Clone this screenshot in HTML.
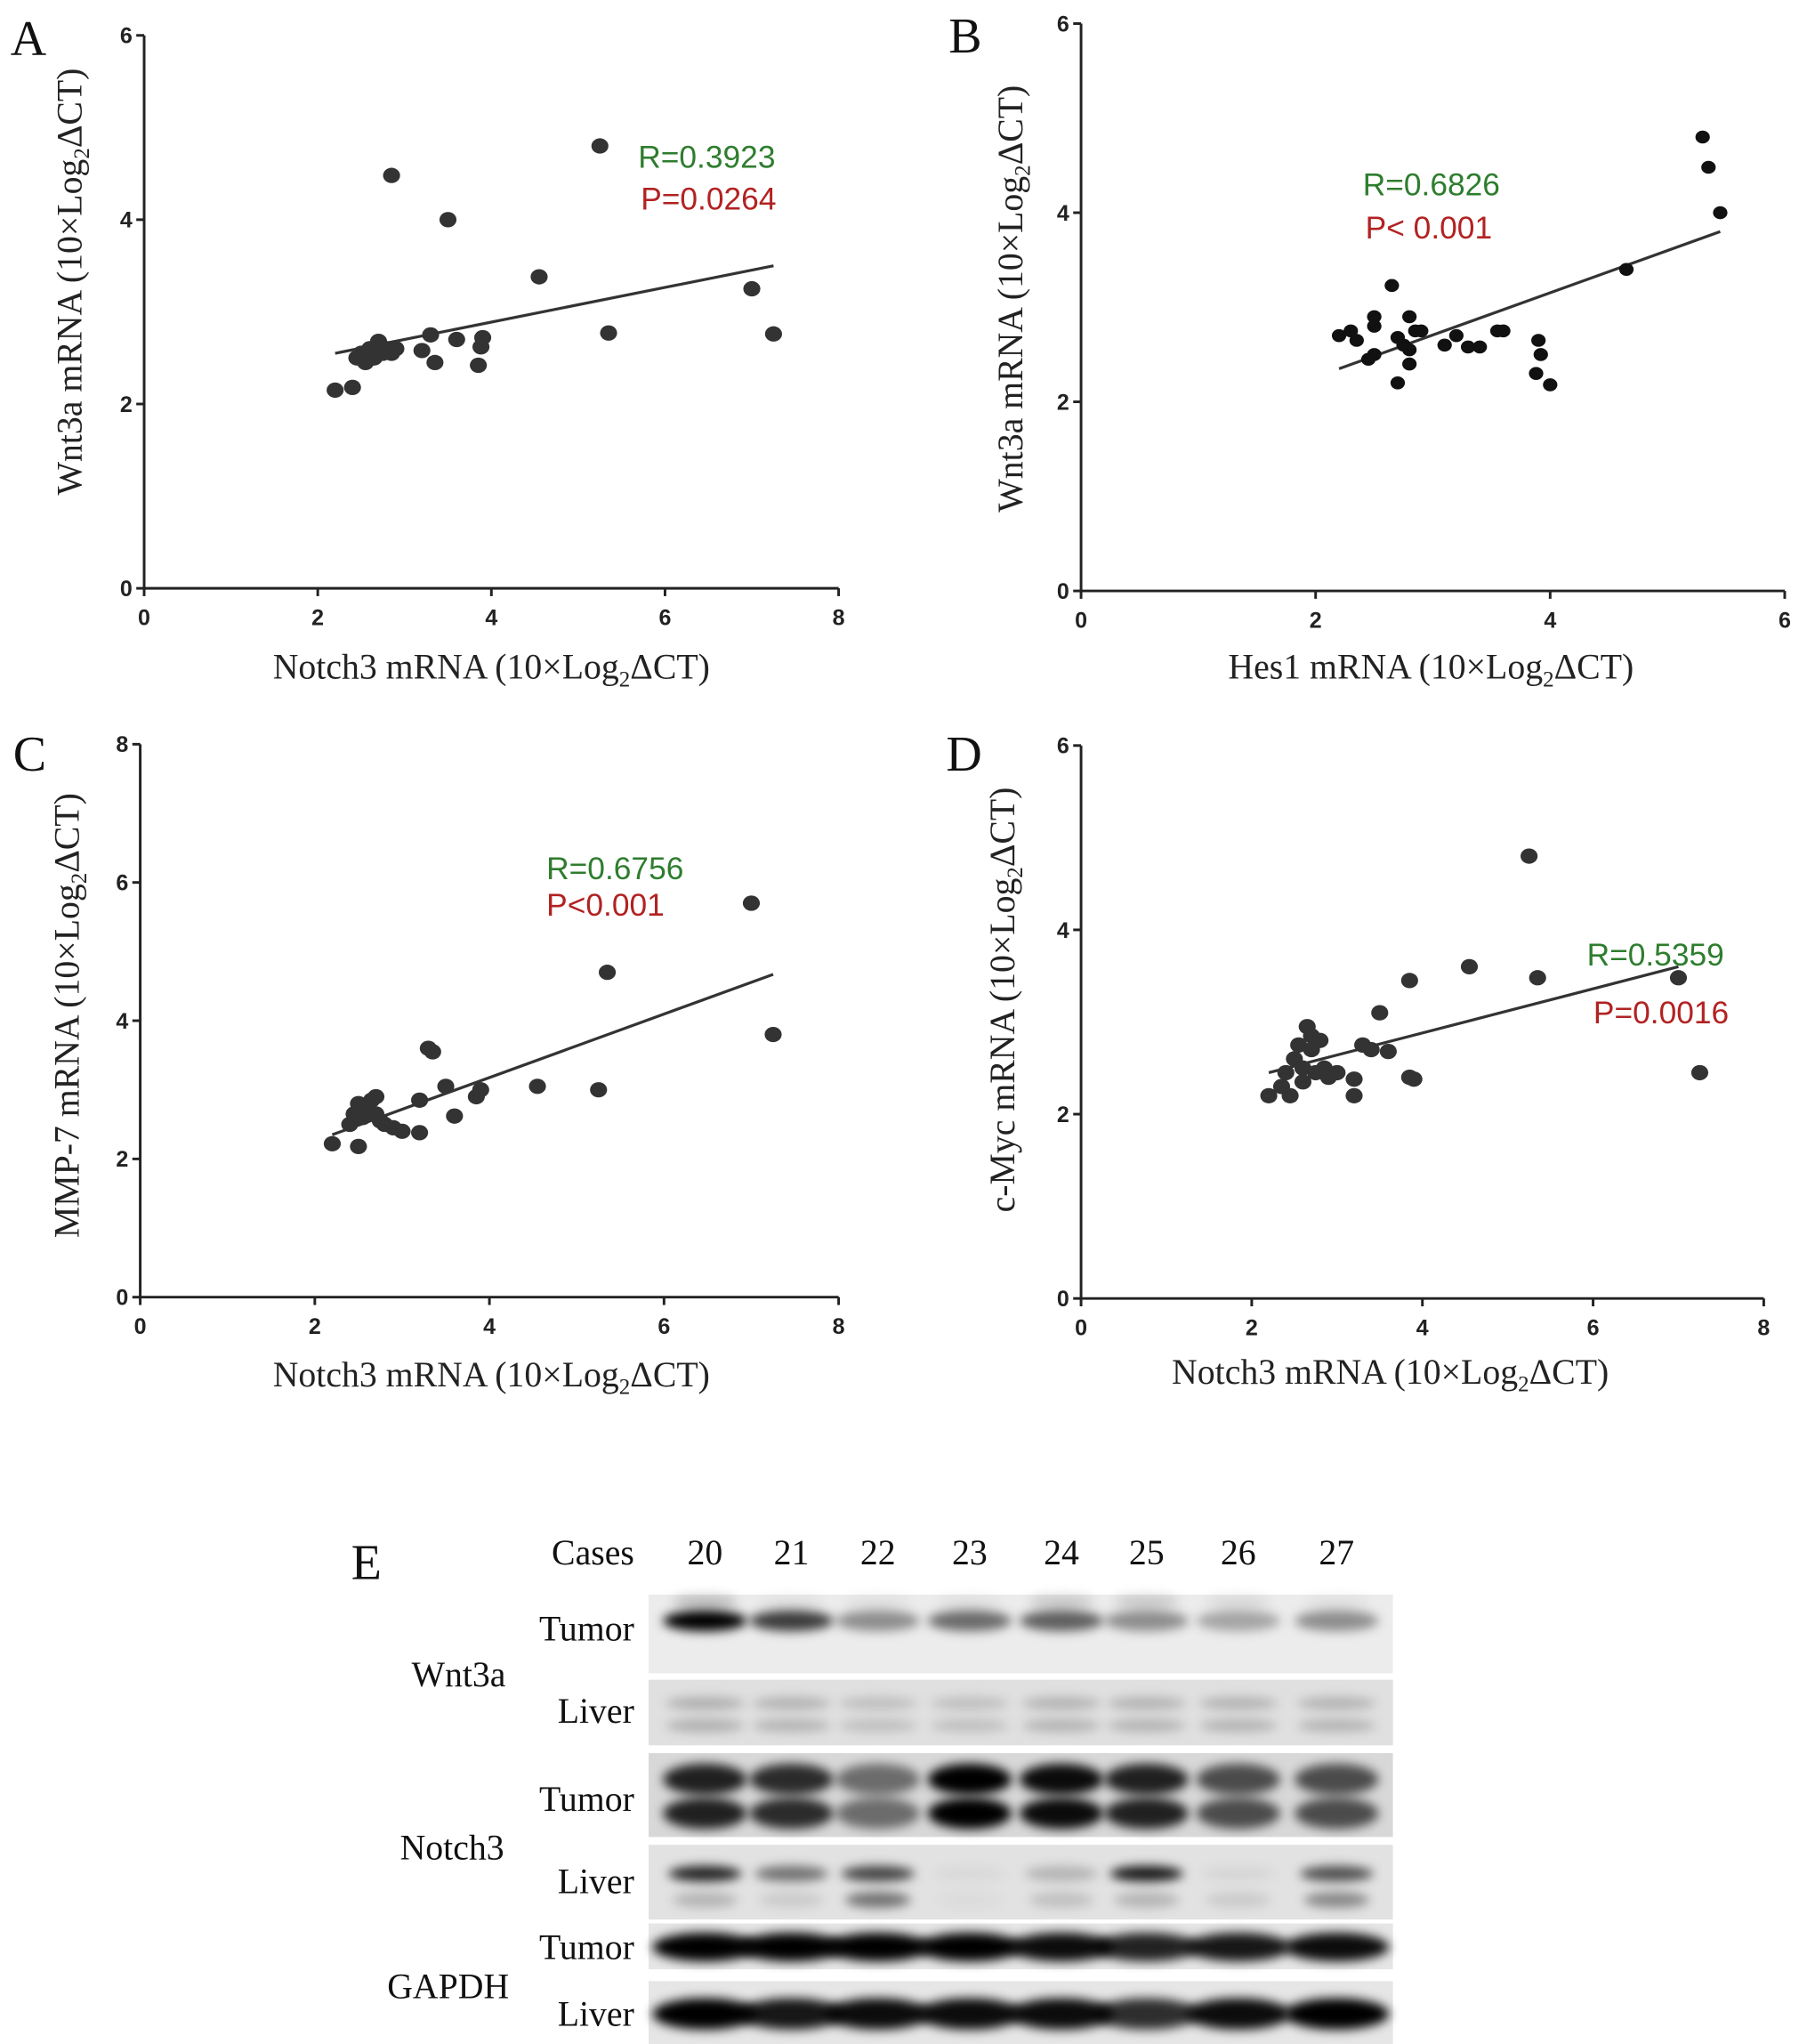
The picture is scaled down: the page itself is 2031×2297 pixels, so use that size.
<!DOCTYPE html>
<html><head><meta charset="utf-8"><style>
html,body{margin:0;padding:0;background:#fff;}
svg{display:block;}
.tk{font-family:"Liberation Sans",sans-serif;font-weight:bold;font-size:17px;fill:#222;}
.ti{font-family:"Liberation Serif",serif;font-size:27px;fill:#222;}
.pl{font-family:"Liberation Serif",serif;font-size:38px;fill:#111;}
.st{font-family:"Liberation Sans",sans-serif;font-size:24px;}
.bl{font-family:"Liberation Serif",serif;font-size:27px;fill:#111;}
</style></head><body>
<svg id="fig" width="2031" height="2297" viewBox="0 0 1379 1560" preserveAspectRatio="none" xmlns="http://www.w3.org/2000/svg">
<defs>
<filter id="blur" x="-50%" y="-100%" width="200%" height="300%"><feGaussianBlur stdDeviation="4"/></filter>
</defs>
</svg>
<script>
// ---- Panel data ----
const aX=[2.2,2.4,2.45,2.5,2.55,2.6,2.65,2.7,2.75,2.8,2.85,2.9,2.85,3.2,3.3,3.35,3.5,3.6,3.85,3.88,3.9,4.55,5.25,5.35,7.0,7.25];
const aY=[2.15,2.18,2.5,2.55,2.45,2.6,2.5,2.68,2.55,2.6,2.55,2.6,4.48,2.58,2.75,2.45,4.0,2.7,2.42,2.62,2.72,3.38,4.8,2.77,3.25,2.76];
const aFit=[[2.2,2.55],[7.25,3.5]];
const bX=[2.2,2.3,2.35,2.5,2.5,2.5,2.45,2.65,2.7,2.7,2.75,2.8,2.8,2.85,2.8,2.9,3.1,3.2,3.3,3.4,3.55,3.6,3.9,3.92,3.88,4.0,4.65,5.3,5.35,5.45];
const bY=[2.7,2.75,2.65,2.8,2.9,2.5,2.45,3.23,2.68,2.2,2.6,2.9,2.55,2.75,2.4,2.75,2.6,2.7,2.58,2.58,2.75,2.75,2.65,2.5,2.3,2.18,3.4,4.8,4.48,4.0];
const bFit=[[2.2,2.35],[5.45,3.8]];
const cX=[2.2,2.4,2.45,2.5,2.5,2.55,2.6,2.65,2.7,2.7,2.75,2.8,2.9,3.0,3.2,3.2,3.3,3.35,3.5,3.6,3.85,3.9,4.55,5.25,5.35,7.0,7.25];
const cY=[2.22,2.5,2.65,2.8,2.18,2.6,2.75,2.85,2.9,2.65,2.55,2.5,2.45,2.4,2.38,2.85,3.6,3.55,3.05,2.62,2.9,3.0,3.05,3.0,4.7,5.7,3.8];
const cFit=[[2.2,2.35],[7.25,4.67]];
const dX=[2.2,2.35,2.4,2.45,2.5,2.55,2.6,2.6,2.65,2.7,2.7,2.75,2.8,2.85,2.9,3.0,3.2,3.2,3.3,3.4,3.5,3.6,3.85,3.85,3.9,4.55,5.25,5.35,7.0,7.25];
const dY=[2.2,2.3,2.45,2.2,2.6,2.75,2.35,2.5,2.95,2.85,2.7,2.45,2.8,2.5,2.4,2.45,2.2,2.38,2.75,2.7,3.1,2.68,3.45,2.4,2.38,3.6,4.8,3.48,3.48,2.45];
const dFit=[[2.2,2.45],[7.0,3.6]];
const lanes=["20","21","22","23","24","25","26","27"];
const wntTumor=[1,0.75,0.4,0.55,0.6,0.4,0.3,0.4];
const wntLiver=[0.22,0.2,0.15,0.15,0.2,0.2,0.2,0.2];
const notTumor=[0.85,0.8,0.5,1,0.95,0.85,0.65,0.65];
const notLiver=[0.85,0.5,0.7,0.04,0.2,0.9,0.05,0.65];
const gapTumor=[1,1,1,1,0.95,0.85,0.9,0.95];
const gapLiver=[1,0.9,0.95,0.95,0.95,0.8,0.95,1];

const NS="http://www.w3.org/2000/svg";
const svg=document.getElementById('fig');
function mk(tag,attrs,parent,text){const e=document.createElementNS(NS,tag);for(const k in attrs)e.setAttribute(k,attrs[k]);if(text!==undefined)e.textContent=text;(parent||svg).appendChild(e);return e;}

function panel(cfg){
  const g=mk('g',{});
  
  
  const sx=v=>cfg.x0+(v-cfg.xmin)/(cfg.xmax-cfg.xmin)*(cfg.x1-cfg.x0);
  const sy=v=>cfg.y0-(v-cfg.ymin)/(cfg.ymax-cfg.ymin)*(cfg.y0-cfg.y1);
  const ax=mk('path',{d:`M${cfg.x0} ${cfg.y1}V${cfg.y0}H${cfg.x1}`,fill:'none',stroke:'#222','stroke-width':2},g);
   
  cfg.xt.forEach(t=>{mk('line',{x1:sx(t),x2:sx(t),y1:cfg.y0,y2:cfg.y0+6,stroke:'#222','stroke-width':2},g);
    const l=mk('text',{x:sx(t),y:cfg.y0+28,'text-anchor':'middle',class:'tk'},g,t);
     });
  cfg.yt.forEach(t=>{mk('line',{x1:cfg.x0-6,x2:cfg.x0,y1:sy(t),y2:sy(t),stroke:'#222','stroke-width':2},g);
    const l=mk('text',{x:cfg.x0-9,y:sy(t)+6,'text-anchor':'end',class:'tk'},g,t);
     });
  const fl=mk('line',{x1:sx(cfg.fit[0][0]),y1:sy(cfg.fit[0][1]),x2:sx(cfg.fit[1][0]),y2:sy(cfg.fit[1][1]),stroke:'#333','stroke-width':2.2},g);
   
  cfg.xs.forEach((v,i)=>{const c=mk('ellipse',{cx:sx(v),cy:sy(cfg.ys[i]),rx:cfg.r,ry:cfg.r*0.9,fill:cfg.col},g);
     });
  const lb=mk('text',{x:cfg.lab[0],y:cfg.lab[1],class:'pl'},g,cfg.id);
   
  const xt=mk('text',{x:cfg.xtit[0],y:cfg.xtit[1],'text-anchor':'middle',class:'ti'},g);
   
  xt.innerHTML=cfg.xname+' mRNA (10×Log<tspan font-size="17" dy="6">2</tspan><tspan dy="-6">ΔCT)</tspan>';
  const yt=mk('text',{x:0,y:0,'text-anchor':'middle',class:'ti',transform:`translate(${cfg.ytit[0]},${cfg.ytit[1]}) rotate(-90)`},g);
   
  yt.innerHTML=cfg.yname+' mRNA (10×Log<tspan font-size="17" dy="6">2</tspan><tspan dy="-6">ΔCT)</tspan>';
  const r=mk('text',{x:cfg.rt[0],y:cfg.rt[1],class:'st',fill:'#2e7d2e','font-size':cfg.fs},g,cfg.rtxt);
   
  const p=mk('text',{x:cfg.pt[0],y:cfg.pt[1],class:'st',fill:'#b22222','font-size':cfg.fs},g,cfg.ptxt);
   
}
panel({id:'A',x0:110,x1:640,xmin:0,xmax:8,y0:449,y1:27,ymin:0,ymax:6,xt:[0,2,4,6,8],yt:[0,2,4,6],xs:aX,ys:aY,fit:aFit,r:6.5,col:'#333',
  lab:[8,42],xtit:[375,518],ytit:[62,215],xname:'Notch3',yname:'Wnt3a',rt:[487,128],pt:[489,160],rtxt:'R=0.3923',ptxt:'P=0.0264',fs:26});
panel({id:'B',x0:825,x1:1362,xmin:0,xmax:6,y0:451,y1:18,ymin:0,ymax:6,xt:[0,2,4,6],yt:[0,2,4,6],xs:bX,ys:bY,fit:bFit,r:5.5,col:'#111',
  lab:[724,40],xtit:[1092,518],ytit:[780,228],xname:'Hes1',yname:'Wnt3a',rt:[1040,149],pt:[1042,182],rtxt:'R=0.6826',ptxt:'P< 0.001',fs:22});
panel({id:'C',x0:107,x1:640,xmin:0,xmax:8,y0:990,y1:568,ymin:0,ymax:8,xt:[0,2,4,6,8],yt:[0,2,4,6,8],xs:cX,ys:cY,fit:cFit,r:6.5,col:'#333',
  lab:[10,588],xtit:[375,1058],ytit:[60,775],xname:'Notch3',yname:'MMP-7',rt:[417,671],pt:[417,699],rtxt:'R=0.6756',ptxt:'P<0.001',fs:26});
panel({id:'D',x0:825,x1:1346,xmin:0,xmax:8,y0:991,y1:569,ymin:0,ymax:6,xt:[0,2,4,6,8],yt:[0,2,4,6],xs:dX,ys:dY,fit:dFit,r:6.5,col:'#333',
  lab:[722,588],xtit:[1061,1056],ytit:[774,763],xname:'Notch3',yname:'c-Myc',rt:[1211,737],pt:[1216,781],rtxt:'R=0.5359',ptxt:'P=0.0016',fs:26});

// ---- Panel E: western blot ----
const laneX=[538,604,670,740,810,875,945,1020];
const gE=mk('g',{});


const eL=mk('text',{x:268,y:1205,class:'pl'},gE,'E');
 
const cs=mk('text',{x:484,y:1194,'text-anchor':'end',class:'bl'},gE,'Cases');
 
lanes.forEach((t,i)=>{const l=mk('text',{x:laneX[i],y:1194,'text-anchor':'middle',class:'bl'},gE,t);
   });
function strip(name,y0,y1,bg,bands){
  const g=mk('g',{},gE);
  
  
  mk('rect',{x:495,y:y0,width:568,height:y1-y0,fill:bg},g);
  bands.forEach(b=>{b.vals.forEach((v,i)=>{
    const e=mk('ellipse',{cx:laneX[i],cy:b.y,rx:b.rx,ry:b.ry,fill:'#000','fill-opacity':v,filter:'url(#blur)'},g);
     });});
}
strip('wnt3a-tumor-blot',1217,1277,'#ececec',[{y:1237,rx:32,ry:8,vals:wntTumor},{y:1222,rx:25,ry:5,vals:[0.2,0.05,0.05,0.05,0.15,0.15,0.08,0.05]}]);
strip('wnt3a-liver-blot',1282,1332,'#e0e0e0',[{y:1300,rx:30,ry:5,vals:wntLiver},{y:1317,rx:30,ry:5,vals:wntLiver}]);
strip('notch3-tumor-blot',1338,1402,'#d8d8d8',[{y:1358,rx:32,ry:12,vals:notTumor},{y:1384,rx:32,ry:12,vals:notTumor}]);
strip('notch3-liver-blot',1408,1465,'#e2e2e2',[{y:1430,rx:28,ry:6,vals:notLiver},{y:1450,rx:25,ry:6,vals:[0.2,0.1,0.5,0.03,0.15,0.2,0.1,0.4]}]);
strip('gapdh-tumor-blot',1468,1503,'#e6e6e6',[{y:1486,rx:40,ry:11,vals:gapTumor}]);
strip('gapdh-liver-blot',1512,1560,'#e6e6e6',[{y:1537,rx:40,ry:12,vals:gapLiver}]);
[['Tumor',1252],['Liver',1315],['Tumor',1382],['Liver',1445],['Tumor',1495],['Liver',1546]].forEach(r=>{
  const l=mk('text',{x:484,y:r[1],'text-anchor':'end',class:'bl'},gE,r[0]);
   });
[['Wnt3a',350,1287],['Notch3',345,1419],['GAPDH',342,1525]].forEach(r=>{
  const l=mk('text',{x:r[1],y:r[2],'text-anchor':'middle',class:'bl'},gE,r[0]);
   });
</script>
</body></html>
